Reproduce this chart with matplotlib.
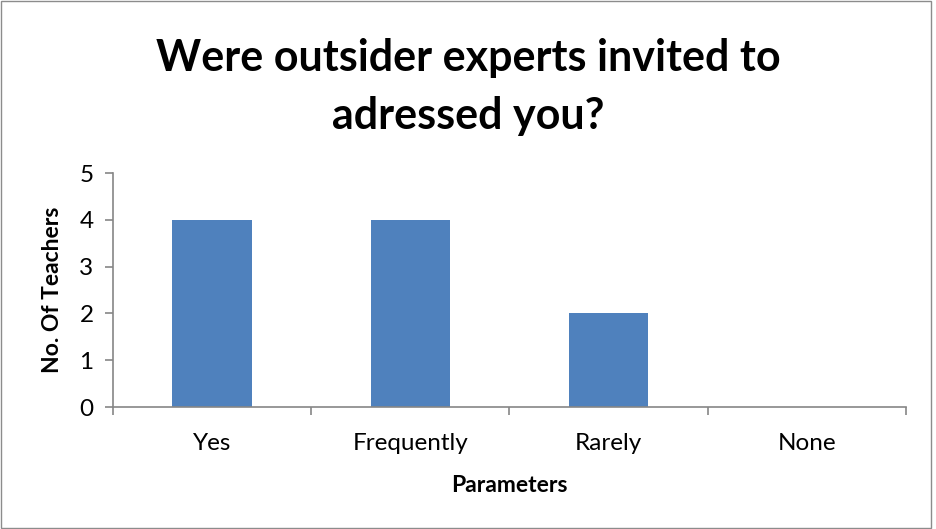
import matplotlib
matplotlib.use('Agg')
import matplotlib.pyplot as plt
from matplotlib.patches import Rectangle

# chart data
categories = ['Yes', 'Frequently', 'Rarely', 'None']
teachers = [4, 4, 2, 0]
y_ticks = [0, 1, 2, 3, 4, 5]

plt.rcParams['font.family'] = ['Lato', 'DejaVu Sans']
grey = '#868686'

fig = plt.figure(figsize=(9.37, 5.29), dpi=100)
ax = fig.add_axes([0.1206, 0.2306, 0.8463, 0.4423])

x = range(len(categories))
ax.bar(x, teachers, width=0.4, color='#4F81BD')

ax.set_xlim(-0.5, len(categories) - 0.5)
ax.set_ylim(0, 5)
ax.set_yticks(y_ticks)
ax.set_xticks(x)
ax.set_xticklabels(categories)
ax.set_xticks([i - 0.5 for i in range(len(categories) + 1)], minor=True)
ax.tick_params(axis='x', which='major', length=0, pad=19, labelsize=17.5)
ax.tick_params(axis='x', which='minor', length=6, color=grey, width=1.2)
ax.tick_params(axis='y', length=6, color=grey, width=1.2, labelsize=17.5, pad=8)

for s in ['top', 'right']:
    ax.spines[s].set_visible(False)
for s in ['left', 'bottom']:
    ax.spines[s].set_color(grey)
    ax.spines[s].set_linewidth(1.2)

ax.set_xlabel('Parameters', fontsize=16.5, fontweight='bold', labelpad=15)
ax.set_ylabel('No. Of Teachers', fontsize=16.5, fontweight='bold', labelpad=12)

fig.text(0.5, 0.836, 'Were outsider experts invited to\nadressed you?',
         ha='center', va='center', fontsize=31, fontweight='bold', linespacing=1.55)

# outer chart border
fig.patches.append(Rectangle((0.001, 0.001), 0.993, 0.997, transform=fig.transFigure,
                             fill=False, edgecolor='#8c8c8c', linewidth=1))

fig.savefig('out.png', dpi=100)
